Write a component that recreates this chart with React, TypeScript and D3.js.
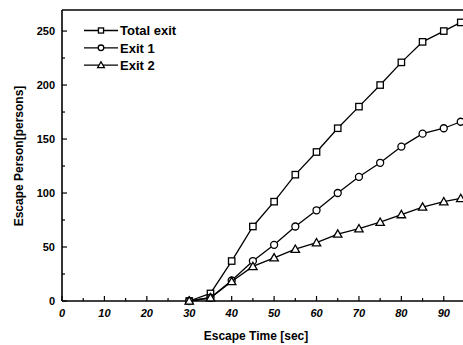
import React from "react";
import * as d3 from "d3";

const times = [30, 35, 40, 45, 50, 55, 60, 65, 70, 75, 80, 85, 90, 94];
const totalExit = [0, 7, 37, 69, 92, 117, 138, 160, 180, 200, 221, 240, 250, 258];
const exit1 = [0, 3, 19, 37, 52, 69, 84, 100, 115, 128, 143, 155, 160, 166];
const exit2 = [0, 3, 18, 32, 40, 48, 54, 62, 67, 73, 80, 87, 92, 95];
const xTicks = [0, 10, 20, 30, 40, 50, 60, 70, 80, 90];
const yTicks = [0, 50, 100, 150, 200, 250];
const seriesNames = ["Total exit", "Exit 1", "Exit 2"];
const markers = ["square", "circle", "triangle"];

const W = 463, H = 345;
const x = d3.scaleLinear().domain([0, 95]).range([62, 465]);
const y = d3.scaleLinear().domain([0, 269.5]).range([301, 10]);

function Marker({ kind, cx, cy, size = 1 }: { kind: string; cx: number; cy: number; size?: number }) {
  const p = { fill: "white", stroke: "black", strokeWidth: 1.3 };
  if (kind === "square") return <rect x={cx - 3.2 * size} y={cy - 3.2 * size} width={6.4 * size} height={6.4 * size} {...p} />;
  if (kind === "circle") return <circle cx={cx} cy={cy} r={3.5 * size} {...p} />;
  const s = 4.2 * size;
  return <path d={`M${cx},${cy - s}L${cx + s},${cy + s * 0.75}L${cx - s},${cy + s * 0.75}Z`} {...p} />;
}

export default function App() {
  const series = [totalExit, exit1, exit2];
  const line = d3.line<number>().x((_, i) => x(times[i])).y((v) => y(v));
  const font = "'Liberation Sans', Arial, sans-serif";
  const xMinor = d3.range(5, 95, 10);
  const yMinor = d3.range(25, 270, 50);
  return (
    <svg width={W} height={H} style={{ position: "absolute", left: 0, top: 0, background: "white" }}>
      <rect width={W} height={H} fill="white" />
      {/* frame */}
      <line x1={62} x2={62} y1={10} y2={301} stroke="black" strokeWidth={1.6} />
      <line x1={62} x2={465} y1={301} y2={301} stroke="black" strokeWidth={1.6} />
      <line x1={62} x2={465} y1={10} y2={10} stroke="black" strokeWidth={1.6} />
      {/* x ticks */}
      {xTicks.map((t) => (
        <g key={"xt" + t}>
          <line x1={x(t)} x2={x(t)} y1={301} y2={296} stroke="black" strokeWidth={1.2} />
          <text x={x(t)} y={317} textAnchor="middle" fontFamily={font} fontSize={11} fontWeight="bold" fontStyle="italic">{t}</text>
        </g>
      ))}
      {xMinor.map((t) => (
        <line key={"xm" + t} x1={x(t)} x2={x(t)} y1={301} y2={298} stroke="black" strokeWidth={1.2} />
      ))}
      {/* y ticks */}
      {yTicks.map((t) => (
        <g key={"yt" + t}>
          <line x1={62} x2={67} y1={y(t)} y2={y(t)} stroke="black" strokeWidth={1.2} />
          <text x={55} y={y(t) + 4} textAnchor="end" fontFamily={font} fontSize={11} fontWeight="bold">{t}</text>
        </g>
      ))}
      {yMinor.map((t) => (
        <line key={"ym" + t} x1={62} x2={65} y1={y(t)} y2={y(t)} stroke="black" strokeWidth={1.2} />
      ))}
      {/* axis titles */}
      <text x={256} y={340} textAnchor="middle" fontFamily={font} fontSize={12} fontWeight="bold">Escape Time [sec]</text>
      <text transform={`translate(23,156) rotate(-90)`} textAnchor="middle" fontFamily={font} fontSize={12} fontWeight="bold">Escape Person[persons]</text>
      {/* series */}
      {series.map((s, k) => (
        <g key={"s" + k}>
          <path d={line(s) || ""} fill="none" stroke="black" strokeWidth={1.3} />
          {s.map((v, i) => (
            <Marker key={i} kind={markers[k]} cx={x(times[i])} cy={y(v)} />
          ))}
        </g>
      ))}
      {/* legend */}
      {seriesNames.map((n, k) => {
        const ly = 30.5 + k * 17.3;
        return (
          <g key={"l" + k}>
            <line x1={84} x2={118} y1={ly} y2={ly} stroke="black" strokeWidth={1.3} />
            <Marker kind={markers[k]} cx={101} cy={ly} size={0.8} />
            <text x={120} y={ly + 4.7} fontFamily={font} fontSize={13} fontWeight="bold">{n}</text>
          </g>
        );
      })}
    </svg>
  );
}
